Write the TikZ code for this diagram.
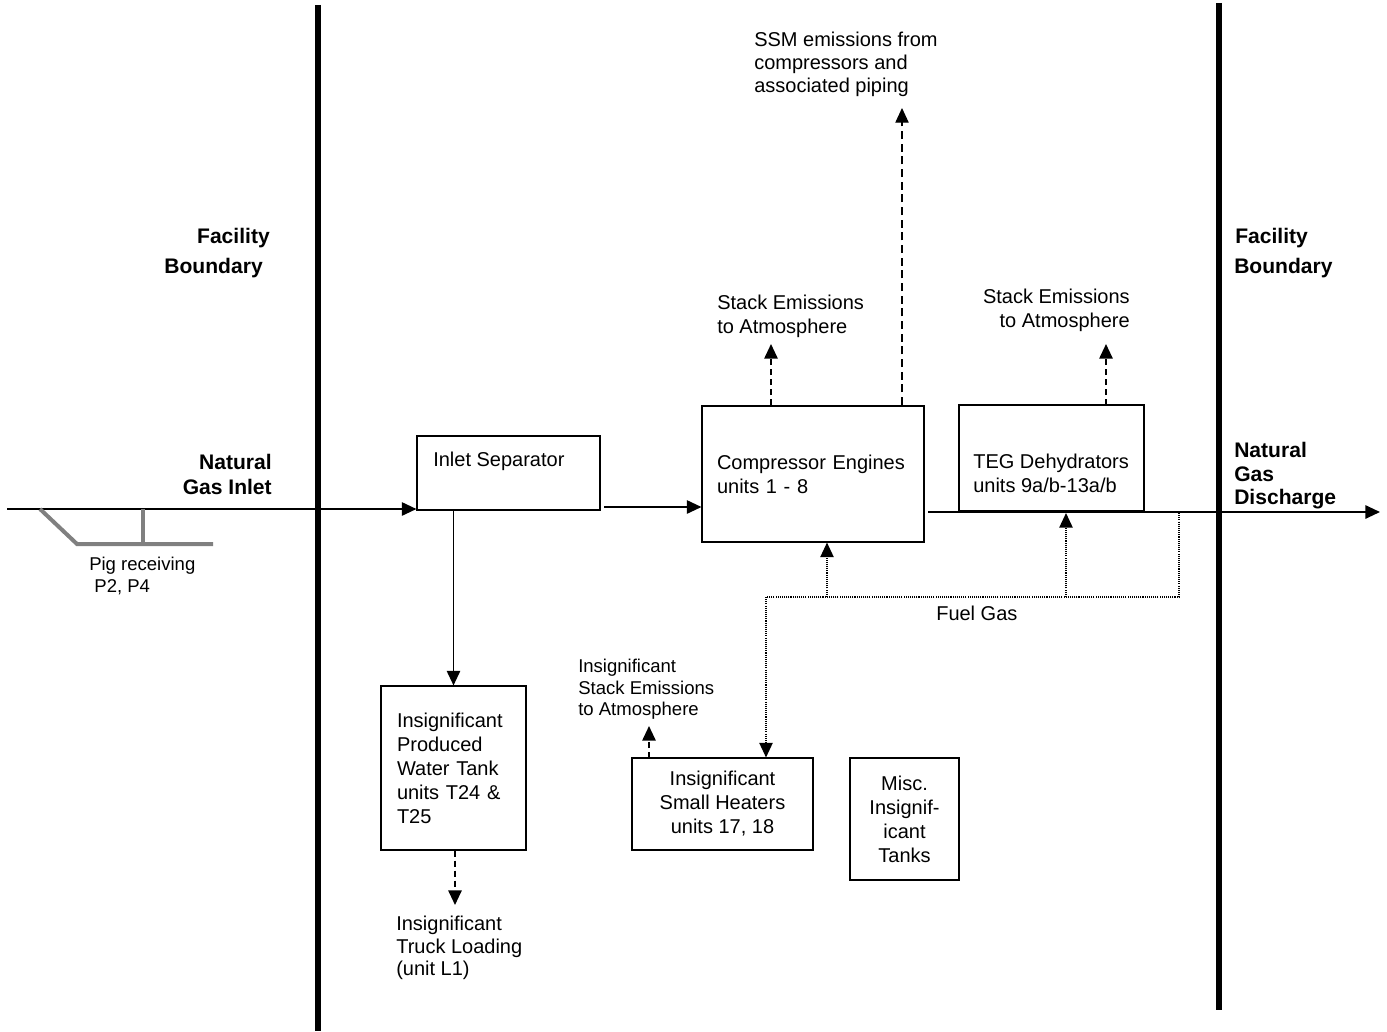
\documentclass[tikz,border=0pt]{standalone}
\usepackage{fontspec}
\setmainfont{Liberation Sans}
\usetikzlibrary{arrows.meta}
\newcommand\mainsz{\fontsize{15pt}{18pt}\selectfont}
\newcommand\smallsz{\fontsize{13.9pt}{16.2pt}\selectfont}
\newcommand\boldsz{\fontsize{15.8pt}{18.75pt}\selectfont\bfseries}
\begin{document}
\begin{tikzpicture}[x=0.75pt,y=-0.75pt,
  box/.style={draw,line width=0.8pt,inner sep=0pt},
  boxtxt/.style={box,font=\mainsz},
  flow/.style={line width=1.4pt,-{Triangle[length=11pt,width=10pt]}},
  dashline/.style={line width=1.4pt,dash pattern=on 4.5pt off 3pt,-{Triangle[length=11pt,width=10pt]}},
  thindash/.style={line width=0.8pt,dash pattern=on 6pt off 3.5pt,-{Triangle[length=11pt,width=10pt]}},
  dotline/.style={line width=1.1pt,dash pattern=on 0.8pt off 0.8pt},
  dotflow/.style={dotline,-{Triangle[length=11pt,width=10pt]}},
  boundary/.style={line width=3.8pt},
  pig/.style={line width=3pt,draw={rgb,255:red,128;green,128;blue,128}},
  txt/.style={inner sep=0pt,font=\mainsz,align=left},
  stxt/.style={inner sep=0pt,font=\smallsz,align=left},
  btxt/.style={inner sep=0pt,font=\boldsz}
]
\useasboundingbox (0,0) rectangle (1387,1031);

% facility boundaries
\coordinate (bLt) at (318,5);
\coordinate (bLb) at (318,1031);
\coordinate (bRt) at (1219,3);
\coordinate (bRb) at (1219,1010);
\draw[boundary] (bLt) -- (bLb);
\draw[boundary] (bRt) -- (bRb);

% boxes
\node[box,minimum width=137.25pt,minimum height=55.5pt] (sep) at (508.5,473) {};
\node[txt,anchor=west] (septxt) at (433,461) {Inlet Separator};

\node[boxtxt,minimum width=166.5pt,minimum height=102pt,text width=144pt,inner xsep=11.25pt,align=left] (comp) at (813,474) {Compressor Engines\\units 1 - 8};

\node[box,minimum width=138.75pt,minimum height=79.5pt] (teg) at (1051.5,458) {};
\node[txt,anchor=north west] (tegtxt) at (973,454) {TEG Dehydrators\\units 9a/b-13a/b};

\node[boxtxt,minimum width=108.75pt,minimum height=123pt,text width=84.75pt,inner xsep=12pt,align=left] (tank) at (453.5,768) {Insignificant\\Produced\\Water Tank\\units T24 \&\\T25};

\node[boxtxt,minimum width=135.75pt,minimum height=69pt,align=center] (heat) at (722.5,804) {Insignificant\\Small Heaters\\units 17, 18};

\node[boxtxt,minimum width=81.75pt,minimum height=91.5pt,align=center] (misc) at (904.5,819) {Misc.\\Insignif-\\icant\\Tanks};

% main flow
\coordinate (inL) at (7,509);
\draw[flow] (inL) -- (inL -| sep.west);
\coordinate (s2) at (604,507);
\draw[flow] (s2) -- (s2 -| comp.west);
\coordinate (c2) at (928,512);
\coordinate (outE) at (1380,512);
\draw[flow] (c2) -- (outE);
\draw[flow] (tank.north |- sep.south) -- (tank.north);

% pig receiving
\coordinate (p1) at (40,509);
\coordinate (p2) at (77,544);
\coordinate (p3) at (213,544);
\coordinate (p4) at (143,509);
\coordinate (p5) at (143,544);
\draw[pig] (p1) -- (p2) -- (p3);
\draw[pig] (p4) -- (p5);
\node[stxt,anchor=north west] (pigtxt) at (89,557) {Pig receiving\\\ P2, P4};

% emissions
\coordinate (cs1) at (771,405);
\coordinate (cs2) at (771,344);
\draw[dashline] (cs1) -- (cs2);
\node[txt,anchor=north west] (cstxt) at (717,295) {Stack Emissions\\to Atmosphere};

\coordinate (ss1) at (902,405);
\coordinate (ss2) at (902,108);
\draw[thindash] (ss1) -- (ss2);
\node[txt,anchor=north west,font=\fontsize{15pt}{17.25pt}\selectfont] (sstxt) at (754,32) {SSM emissions from\\compressors and\\associated piping};

\coordinate (ts1) at (1106,405);
\coordinate (ts2) at (1106,344);
\draw[dashline] (ts1) -- (ts2);
\node[txt,anchor=north east,align=right] (tstxt) at (1130,289) {Stack Emissions\\to Atmosphere};

\coordinate (hs1) at (649,758);
\coordinate (hs2) at (649,726);
\draw[dashline] (hs1) -- (hs2);
\node[stxt,anchor=north west] (hstxt) at (578,659) {Insignificant\\Stack Emissions\\to Atmosphere};

\coordinate (tk2) at (455,905);
\draw[dashline] (tank.south -| tk2) -- (tk2);
\node[txt,anchor=north west,font=\fontsize{15pt}{16.9pt}\selectfont] (tktxt) at (396,916) {Insignificant\\Truck Loading\\(unit L1)};

% fuel gas
\coordinate (f1) at (1179,513);
\coordinate (f2) at (1179,597);
\coordinate (f3) at (766,597);
\coordinate (fc) at (827,597);
\coordinate (ft) at (1066,597);
\coordinate (ftt) at (1066,513);
\draw[dotline] (f1) -- (f2) -- (f3);
\draw[dotflow] (f3) -- (f3 |- heat.north);
\draw[dotflow] (fc) -- (fc |- comp.south);
\draw[dotflow] (ft) -- (ftt);
\node[txt,anchor=west] (fuel) at (936,613) {Fuel Gas};

% boundary labels
\node[btxt,anchor=east] (fb1) at (270,238) {Facility};
\node[btxt,anchor=east] (fb2) at (263,268) {Boundary};
\node[btxt,anchor=north east,align=right,font=\fontsize{15.8pt}{18.75pt}\selectfont\bfseries] (ngi) at (272,454) {Natural\\Gas Inlet};
\node[btxt,anchor=west] (fb3) at (1235,238) {Facility};
\node[btxt,anchor=west] (fb4) at (1234,268) {Boundary};
\node[btxt,anchor=north west,align=left,font=\fontsize{15.8pt}{17.6pt}\selectfont\bfseries] (ngd) at (1234,442) {Natural\\Gas\\Discharge};
\end{tikzpicture}
\end{document}
